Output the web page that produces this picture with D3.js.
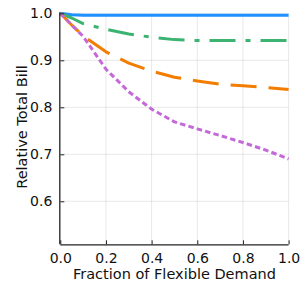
<!DOCTYPE html>
<html>
<head>
<meta charset="utf-8">
<script src="https://cdn.jsdelivr.net/npm/d3@7"></script>
<style>
  html, body { margin: 0; padding: 0; background: #fff; }
  svg { display: block; font-family: "DejaVu Sans", sans-serif; }
</style>
</head>
<body>
<script>
// ---- data ----
const xValues = [0, 0.05, 0.1, 0.2, 0.3, 0.4, 0.5, 0.6, 0.7, 0.8, 0.9, 1.0];
const seriesBlue   = [1.0, 0.997, 0.996, 0.996, 0.996, 0.996, 0.996, 0.996, 0.996, 0.996, 0.996, 0.996];
const seriesGreen  = [1.0, 0.990, 0.978, 0.966, 0.956, 0.949, 0.944, 0.942, 0.942, 0.942, 0.942, 0.942];
const seriesOrange = [1.0, 0.975, 0.952, 0.918, 0.894, 0.877, 0.864, 0.856, 0.849, 0.846, 0.842, 0.838];
const seriesPurple = [1.0, 0.975, 0.951, 0.881, 0.833, 0.796, 0.769, 0.754, 0.740, 0.725, 0.709, 0.690];
const xTicks = [0.0, 0.2, 0.4, 0.6, 0.8, 1.0];
const yTicks = [0.6, 0.7, 0.8, 0.9, 1.0];
const xLabel = "Fraction of Flexible Demand";
const yLabel = "Relative Total Bill";

const series = [
  { values: seriesBlue,   color: "#1E90FF", dash: null },
  { values: seriesGreen,  color: "#3CB371", dash: "26,10,5,10" },
  { values: seriesOrange, color: "#F27D00", dash: "26,12" },
  { values: seriesPurple, color: "#C46AD8", dash: "5.5,3.2" }
];

const W = 300, H = 300;
const pLeft = 60.3, pRight = 288.6, pTop = 13.3, pBottom = 244.3;

const svg = d3.select("body").append("svg").attr("width", W).attr("height", H);

const x = d3.scaleLinear().domain([0, 1]).range([pLeft, pRight]);
const y = d3.scaleLinear().domain([0.5085, 1.0]).range([pBottom, pTop]);

// grid
const grid = svg.append("g");
grid.selectAll("line.vx").data(xTicks.filter(d => d > 0)).enter().append("line")
  .attr("x1", d => x(d)).attr("x2", d => x(d)).attr("y1", pTop).attr("y2", pBottom)
  .attr("stroke", "#000").attr("stroke-opacity", 0.09).attr("stroke-width", 1);
grid.selectAll("line.hy").data(yTicks).enter().append("line")
  .attr("y1", d => y(d)).attr("y2", d => y(d)).attr("x1", pLeft).attr("x2", pRight)
  .attr("stroke", "#000").attr("stroke-opacity", 0.09).attr("stroke-width", 1);

// series
const line = d3.line().x((d, i) => x(xValues[i])).y(d => y(d));
series.forEach(s => {
  svg.append("path").datum(s.values)
    .attr("d", line)
    .attr("fill", "none")
    .attr("stroke", s.color)
    .attr("stroke-width", 3)
    .attr("stroke-linejoin", "round")
    .attr("stroke-dasharray", s.dash);
});

// axes
const xAxis = d3.axisBottom(x).tickValues(xTicks).tickFormat(d3.format(".1f")).tickSizeInner(-4).tickSizeOuter(0).tickPadding(9);
const yAxis = d3.axisLeft(y).tickValues(yTicks).tickFormat(d3.format(".1f")).tickSizeInner(-4).tickSizeOuter(0).tickPadding(8);

const gx = svg.append("g").attr("transform", `translate(0,${pBottom})`).call(xAxis);
const gy = svg.append("g").attr("transform", `translate(${pLeft},0)`).call(yAxis);
[gx, gy].forEach(g => {
  g.select(".domain").attr("stroke", "#222").attr("stroke-width", 1.3);
  g.selectAll(".tick line").attr("stroke", "#222").attr("stroke-width", 1);
  g.selectAll(".tick text").attr("fill", "#111").style("font-size", "14px").style("font-family", "DejaVu Sans, sans-serif");
});
gx.select(".domain").attr("d", `M${pLeft},0.5H${pRight}`);
gy.select(".domain").attr("d", `M-0.5,${pBottom}V${pTop - 1}`);

// labels
svg.append("text")
  .attr("x", (pLeft + pRight) / 2).attr("y", 279)
  .attr("text-anchor", "middle")
  .style("font-size", "14.5px").attr("fill", "#111")
  .text(xLabel);
svg.append("text")
  .attr("transform", `translate(26.5,127) rotate(-90)`)
  .attr("text-anchor", "middle")
  .style("font-size", "14.5px").attr("fill", "#111")
  .text(yLabel);
</script>
</body>
</html>
